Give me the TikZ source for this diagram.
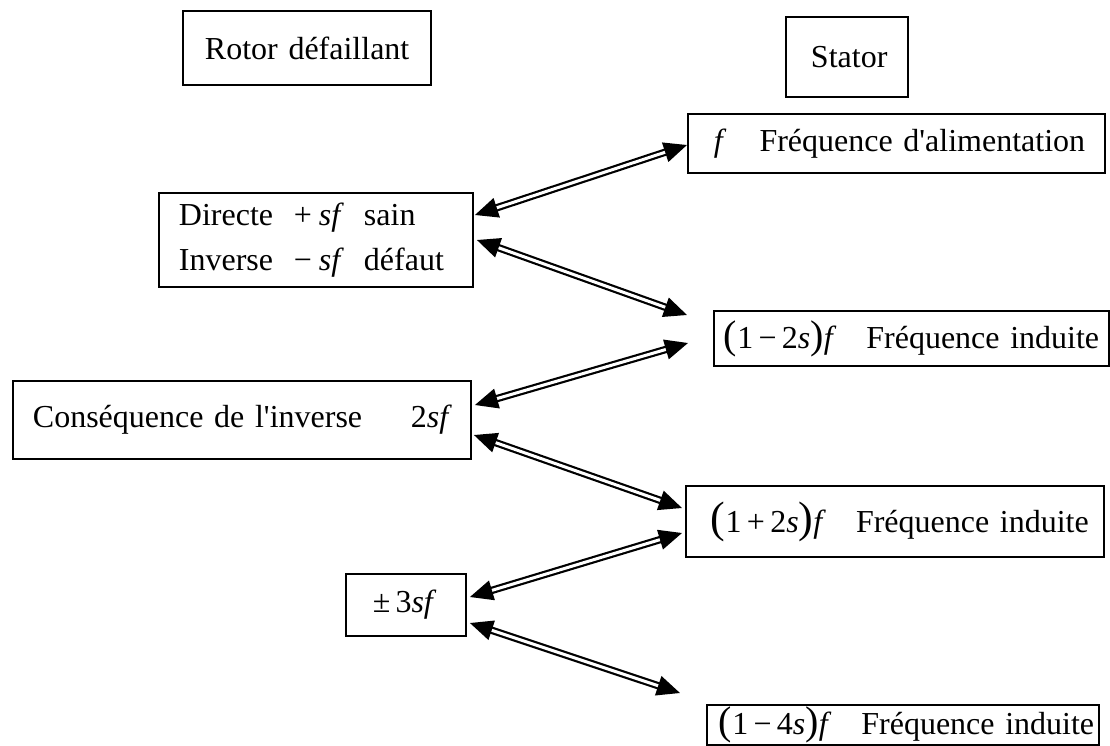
\documentclass[tikz,border=0pt]{standalone}
\usepackage{fontspec}
\setmainfont{Liberation Serif}[Ligatures=TeXOff]
\usetikzlibrary{arrows.meta,calc}
\newcommand\myP[2]{{\fontsize{#1}{#1}\selectfont #2}}
\begin{document}
\begin{tikzpicture}[x=1pt,y=-1pt,
  box/.style={draw, line width=1.9pt, anchor=north west, inner ysep=0pt,
              align=left, font=\fontsize{32}{45}\selectfont},
  dbl/.style={draw, line width=2.2pt, double=white, double distance=3pt,
              {Triangle[length=23pt,width=20pt]}-{Triangle[length=23pt,width=20pt]}}]
\fill[white] (0,0) rectangle (1110,745);
\useasboundingbox (0,0) rectangle (1110,745);

\node[box, text width=204pt, inner xsep=22pt, minimum height=74pt] (rotor) at (182,10) {\mbox{Rotor défaillant}};
\node[box, text width=72pt, inner xsep=25pt, minimum height=80pt] (stator) at (785,16) {\mbox{Stator}};
\node[box, text width=365pt, inner xsep=26pt, minimum height=59pt] (fal) at (687,113)
  {\mbox{\textit{f}\hspace{33pt}Fréquence d'alimentation}};
\node[box, text width=274pt, inner xsep=20pt, minimum height=94pt] (dir) at (158,192)
  {\makebox[115pt][l]{Directe}\makebox[25pt][l]{+}\makebox[45pt][l]{\textit{sf}}sain\\
   \makebox[115pt][l]{Inverse}\makebox[25pt][l]{−}\makebox[45pt][l]{\textit{sf}}défaut};
\node[box, text width=375pt, inner xsep=10pt, minimum height=55pt] (f12) at (713,310)
  {\mbox{\myP{40}{(}1\,−\,2\textit{s}\myP{40}{)}\textit{f}\hspace{30pt}Fréquence induite}};
\node[box, text width=418pt, inner xsep=20pt, minimum height=78pt] (cons) at (12,380)
  {\mbox{\makebox[378pt][l]{Conséquence de l'inverse}2\textit{sf}}};
\node[box, text width=368pt, inner xsep=25pt, minimum height=71pt] (p12) at (685,485)
  {\mbox{\myP{44}{(}1\,+\,2\textit{s}\myP{44}{)}\textit{f}\hspace{30pt}Fréquence induite}};
\node[box, text width=66pt, inner xsep=27pt, minimum height=62pt] (pm) at (345,573)
  {\mbox{±\hspace{5pt}3\textit{sf}}};
\node[box, text width=368pt, inner xsep=12pt, minimum height=40pt] (f14) at (706,704)
  {\mbox{\myP{40}{(}1\,−\,4\textit{s}\myP{40}{)}\textit{f}\hspace{30pt}Fréquence induite}};

\draw[dbl] ($(dir.north east)+(1,23)$) -- ($(fal.north west)+(0,32)$);
\draw[dbl] ($(dir.north east)+(3,48)$) -- ($(f12.north west)+(-26,5)$);
\draw[dbl] ($(f12.north west)+(-25,33)$) -- ($(cons.north east)+(3,25)$);
\draw[dbl] ($(cons.north east)+(2,55)$) -- ($(p12.north west)+(-3,23)$);
\draw[dbl] ($(p12.north west)+(-3,48)$) -- ($(pm.north east)+(3,24)$);
\draw[dbl] ($(pm.north east)+(3,50)$) -- ($(f14.north west)+(-26,-11)$);
\end{tikzpicture}
\end{document}
